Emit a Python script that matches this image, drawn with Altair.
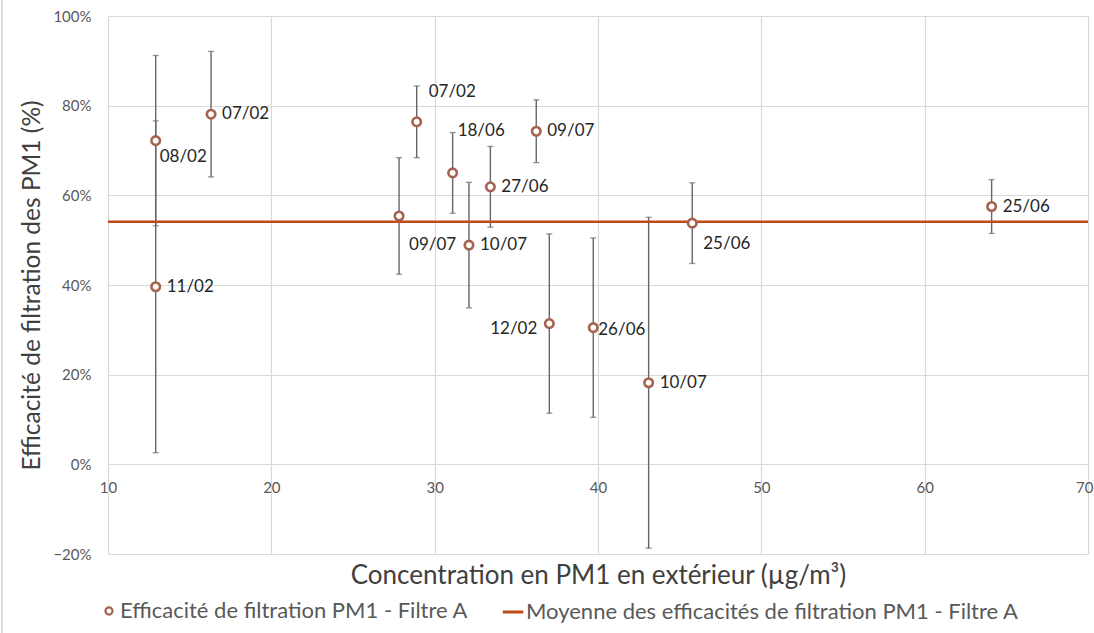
import altair as alt
import pandas as pd

# ---- data ----
conc = [12.92, 12.92, 16.31, 27.82, 28.90, 31.10, 32.10, 33.41, 36.22, 37.02, 39.71, 43.10, 45.77, 64.10]
eff = [0.722, 0.396, 0.781, 0.554, 0.764, 0.650, 0.489, 0.619, 0.743, 0.314, 0.305, 0.182, 0.538, 0.575]
err = [0.19, 0.37, 0.14, 0.13, 0.08, 0.09, 0.14, 0.09, 0.07, 0.20, 0.20, 0.369, 0.09, 0.06]
dates = ["08/02", "11/02", "07/02", "09/07", "07/02", "18/06", "10/07", "27/06",
         "09/07", "12/02", "26/06", "10/07", "25/06", "25/06"]
mean_eff = 0.541
x_ticks = [10, 20, 30, 40, 50, 60, 70]
y_ticks = [-0.2, 0.0, 0.2, 0.4, 0.6, 0.8, 1.0]

LEG1 = "Efficacité de filtration PM1 - Filtre A"
LEG2 = "Moyenne des efficacités de filtration PM1 - Filtre A"
X_TITLE = "Concentration en PM1 en extérieur (µg/m³)"
Y_TITLE = "Efficacité de filtration des PM1 (%)"

df = pd.DataFrame({"conc": conc, "eff": eff, "err": err, "date": dates})
df["lo"] = df["eff"] - df["err"]
df["hi"] = df["eff"] + df["err"]
df["idx"] = range(len(df))

FONT = "Lato"
GRAY = "#595959"
PT_COLOR = "#A5624E"
LINE_COLOR = "#BE4B17"
BAR_COLOR = "#666666"

# label placement (pixel offsets) per point index
placement = {
    0: (4, 16, "left"),
    3: (10, 29, "left"),
    4: (12, -30, "left"),
    5: (5, -42, "left"),
    9: (-12, 5, "right"),
    10: (5, 2, "left"),
    12: (11, 21, "left"),
}
default_place = (11, 0, "left")

xs = alt.Scale(domain=[10, 70], nice=False, zero=False)
ys = alt.Scale(domain=[-0.2, 1.0], nice=False, zero=False)

x_enc = alt.X(
    "conc:Q", scale=xs, title=X_TITLE,
    axis=alt.Axis(values=x_ticks, offset=-90, labelPadding=16, ticks=False, domain=False,
                  labelFlush=False, labelOverlap=False,
                  labelAlign={"condition": {"test": "datum.value == 70", "value": "right"}, "value": "center"},
                  labelOffset={"condition": {"test": "datum.value == 70", "value": 5}, "value": 0},
                  grid=True, gridColor="#D9D9D9", gridWidth=1.2,
                  labelFont=FONT, labelFontSize=15, labelColor=GRAY,
                  titleFont=FONT, titleFontSize=26, titleFontWeight="normal", titleColor="#404040",
                  titleY=111, titleBaseline="middle"),
)
y_axis = alt.Axis(values=y_ticks, format=".0%", labelPadding=17, ticks=False, domain=False,
                  labelFlush=False, labelOverlap=False,
                  grid=True, gridColor="#D9D9D9", gridWidth=1.2,
                  labelFont=FONT, labelFontSize=15, labelColor=GRAY,
                  titleFont=FONT, titleFontSize=24.5, titleFontWeight="normal", titleColor="#404040",
                  titleX=-76, titleBaseline="middle", titleAlign="center")

base = alt.Chart(df)

bars = base.mark_rule(color=BAR_COLOR, strokeWidth=1.4).encode(
    x=x_enc,
    y=alt.Y("lo:Q", scale=ys, title=Y_TITLE, axis=y_axis),
    y2="hi:Q",
)
caps_lo = base.mark_tick(color=BAR_COLOR, orient="horizontal", size=6, thickness=1.3).encode(
    x="conc:Q", y="lo:Q")
caps_hi = base.mark_tick(color=BAR_COLOR, orient="horizontal", size=6, thickness=1.3).encode(
    x="conc:Q", y="hi:Q")

mean_rule = alt.Chart(pd.DataFrame({"m": [mean_eff]})).transform_calculate(
    serie=f"'{LEG2}'"
).mark_rule(strokeWidth=2.6).encode(
    y="m:Q",
    color=alt.Color(
        "serie:N",
        scale=alt.Scale(domain=[LEG2], range=[LINE_COLOR]),
        legend=alt.Legend(title=None, orient="none", legendX=393, legendY=584,
                          symbolType="stroke", symbolSize=420, symbolStrokeWidth=3,
                          labelFont=FONT, labelFontSize=22, labelColor=GRAY, labelOffset=1,
                          labelLimit=0, padding=0),
    ),
)

points = base.transform_calculate(serie=f"'{LEG1}'").mark_point(
    filled=False, fill="white", strokeWidth=2.6, size=72, opacity=1
).encode(
    x="conc:Q",
    y="eff:Q",
    color=alt.Color(
        "serie:N",
        scale=alt.Scale(domain=[LEG1], range=[PT_COLOR]),
        legend=alt.Legend(title=None, orient="none", legendX=-10, legendY=584,
                          symbolType="circle", symbolFillColor="white",
                          symbolStrokeWidth=2.2, symbolSize=50,
                          labelFont=FONT, labelFontSize=22, labelColor=GRAY, labelOffset=0,
                          labelLimit=0, padding=0),
    ),
)

label_layers = []
groups = {}
for i in range(len(df)):
    p = placement.get(i, default_place)
    groups.setdefault(p, []).append(i)
for (dx, dy, align), idxs in groups.items():
    cond = " || ".join(f"datum.idx == {i}" for i in idxs)
    label_layers.append(
        base.transform_filter(cond).mark_text(
            dx=dx, dy=dy, align=align, baseline="middle",
            font=FONT, fontSize=17, color="#262626",
        ).encode(x="conc:Q", y="eff:Q", text="date:N")
    )

border = alt.Chart(pd.DataFrame({"a": [0]})).mark_rule(color="#D0D0D0", strokeWidth=1.5).encode(
    x=alt.value(-106), y=alt.value(-16), y2=alt.value(617))

chart = alt.layer(
    bars, caps_lo, caps_hi, mean_rule, points, *label_layers, border
).properties(
    width=980, height=538,
    padding={"left": 108, "top": 16, "right": 6, "bottom": 79},
    autosize=alt.AutoSizeParams(type="none"),
    background="white",
).configure_view(stroke=None).resolve_scale(color="independent")

chart.save("out.html", embed_options={"renderer": "svg", "actions": False})
